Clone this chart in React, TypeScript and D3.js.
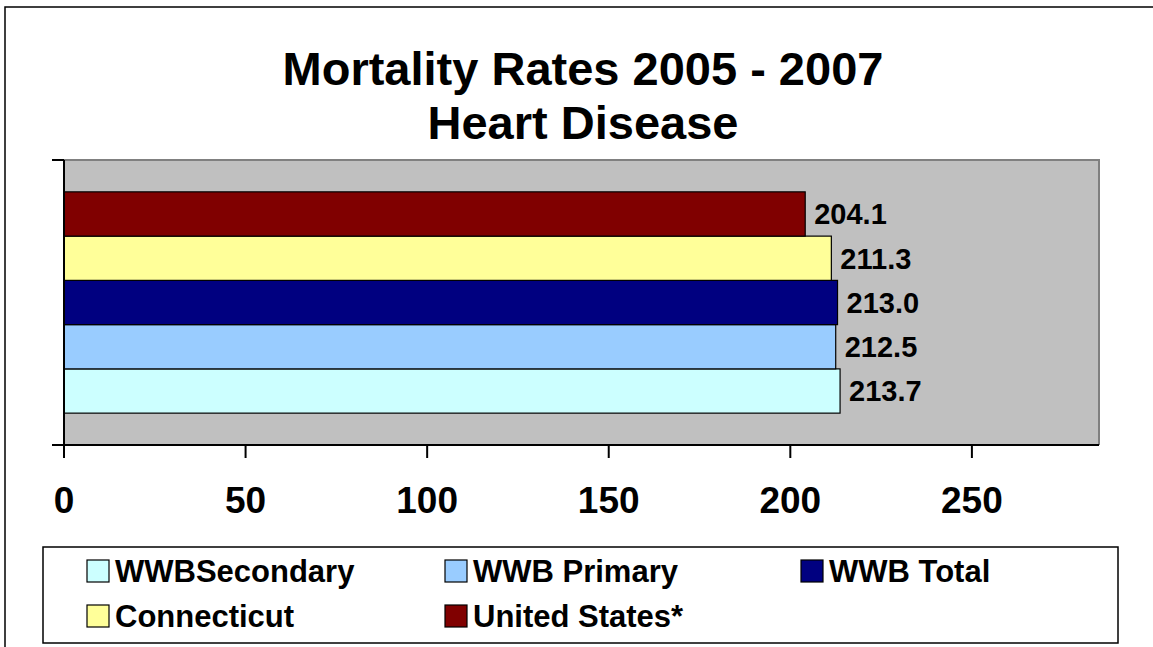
import React from 'react';
import * as d3 from 'd3';

// series in Excel order (first one sits at the bottom of the bar group)
const seriesNames = ['WWBSecondary', 'WWB Primary', 'WWB Total', 'Connecticut', 'United States*'];
const seriesValues = [213.7, 212.5, 213.0, 211.3, 204.1];
const seriesColors = ['#CCFFFF', '#99CCFF', '#000080', '#FFFF99', '#800000'];
const xTicks = [0, 50, 100, 150, 200, 250];
const titleLines = ['Mortality Rates 2005 - 2007', 'Heart Disease'];

const W = 1153;
const H = 647;
const plot = { left: 64, right: 1099, top: 160, bottom: 445 };
const font = '"Liberation Sans", Arial, sans-serif';

const App = () => {
    const x = d3.scaleLinear().domain([0, 285]).range([plot.left, plot.right]);

    // top-down order is the reverse of the series order
    const y = d3.scaleBand<string>()
        .domain([...seriesNames].reverse())
        .range([plot.top, plot.bottom])
        .paddingInner(0)
        .paddingOuter(0.72);

    const fmt = d3.format('.1f');

    const legendCols = [87, 445, 801];
    const legendRows = [571, 616];

    return (
        <svg width={W} height={H} style={{ position: 'absolute', left: 0, top: 0, background: '#fff' }}
            fontFamily={font} fontWeight="bold">
            {/* outer chart border, cut off at right and bottom */}
            <rect x={5} y={7} width={1200} height={700} fill="#fff" stroke="#000" strokeWidth={1.5} />

            {titleLines.map((t, i) => (
                <text key={t} x={583} y={85 + i * 54} textAnchor="middle" fontSize={47}>{t}</text>
            ))}

            {/* plot area */}
            <rect x={plot.left} y={plot.top} width={plot.right - plot.left} height={plot.bottom - plot.top}
                fill="#C0C0C0" />
            <path d={`M${plot.left},${plot.top}H${plot.right}V${plot.bottom}`} fill="none" stroke="#808080" strokeWidth={2} />

            {seriesNames.map((name, i) => (
                <g key={name}>
                    <rect x={x(0)} y={y(name)} width={x(seriesValues[i]) - x(0)} height={y.bandwidth()}
                        fill={seriesColors[i]} stroke="#000" strokeWidth={1.2} />
                    <text x={x(seriesValues[i]) + 9} y={(y(name) ?? 0) + y.bandwidth() / 2} dy="0.36em"
                        fontSize={29}>{fmt(seriesValues[i])}</text>
                </g>
            ))}

            {/* axes */}
            <line x1={plot.left} x2={plot.right} y1={plot.bottom} y2={plot.bottom} stroke="#000" strokeWidth={2} />
            <line x1={plot.left} x2={plot.left} y1={plot.top} y2={plot.bottom + 13} stroke="#000" strokeWidth={2} />
            {[plot.top, plot.bottom].map(v => (
                <line key={v} x1={plot.left - 12} x2={plot.left} y1={v} y2={v} stroke="#000" strokeWidth={2} />
            ))}
            {xTicks.map(t => (
                <g key={t}>
                    <line x1={x(t)} x2={x(t)} y1={plot.bottom} y2={plot.bottom + 13} stroke="#000" strokeWidth={2} />
                    <text x={x(t)} y={513} textAnchor="middle" fontSize={37}>{t}</text>
                </g>
            ))}

            {/* legend */}
            <rect x={43} y={547} width={1075} height={96} fill="#fff" stroke="#000" strokeWidth={1.5} />
            {seriesNames.map((name, i) => {
                const cx = legendCols[i % 3];
                const cy = legendRows[Math.floor(i / 3)];
                return (
                    <g key={name}>
                        <rect x={cx} y={cy - 11} width={22} height={22} fill={seriesColors[i]} stroke="#000" strokeWidth={1.2} />
                        <text x={cx + 28} y={cy} dy="0.36em" fontSize={31}>{name}</text>
                    </g>
                );
            })}
        </svg>
    );
};

export default App;
